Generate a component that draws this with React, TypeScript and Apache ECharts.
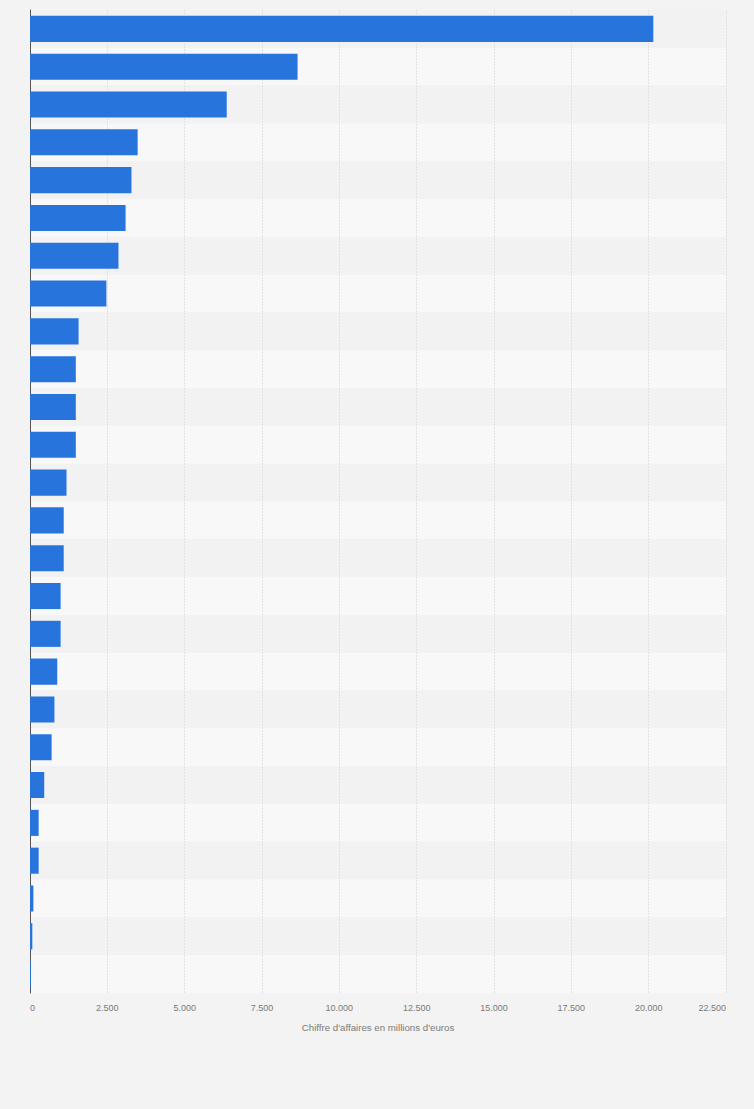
import React, { useEffect, useRef } from 'react';
import * as echarts from 'echarts';

const COLORS = {
  BG: '#f3f3f3',
  BAR: '#2775dc',
  TEXT: '#7a7a7a',
  AXIS: '#555555',
  SPLIT_LINE: '#e2e2e2',
  BANDS: ['#f2f2f2', '#f8f8f8'],
};

const FONT = 'Liberation Sans';

// rank of each entry (labels are not shown in the chart)
const categories = [
  '1', '2', '3', '4', '5', '6', '7', '8', '9', '10', '11', '12', '13',
  '14', '15', '16', '17', '18', '19', '20', '21', '22', '23', '24', '25', '26',
];

// Chiffre d'affaires en millions d'euros
const revenue = [
  20150, 8650, 6360, 3480, 3280, 3090, 2860, 2470, 1570, 1480, 1480, 1480, 1180,
  1090, 1090, 990, 990, 880, 790, 700, 460, 280, 280, 110, 75, 30,
];

const xTicks = { min: 0, max: 22500, interval: 2500 };

const AXIS_NAME = "Chiffre d'affaires en millions d'euros";

const formatThousands = (v: number) =>
  String(v).replace(/\B(?=(\d{3})+(?!\d))/g, '.');

const App: React.FC = () => {
  const divEL = useRef<HTMLDivElement>(null);

  useEffect(() => {
    document.body.style.margin = '0';
    const instance = echarts.init(divEL.current as any, null, { renderer: 'svg' });

    const option: echarts.EChartsOption = {
      animation: false,
      backgroundColor: COLORS.BG,
      textStyle: { fontFamily: FONT },
      grid: {
        left: 30,
        right: 28,
        top: 10,
        bottom: 116,
      },
      xAxis: {
        type: 'value',
        min: xTicks.min,
        max: xTicks.max,
        interval: xTicks.interval,
        name: AXIS_NAME,
        nameLocation: 'middle',
        nameGap: 29,
        nameTextStyle: {
          color: COLORS.TEXT,
          fontSize: 9.7,
          fontFamily: FONT,
        },
        axisLine: { show: false },
        axisTick: { show: false },
        axisLabel: {
          color: COLORS.TEXT,
          fontSize: 9,
          fontFamily: FONT,
          margin: 10,
          formatter: (v: number) => formatThousands(v),
          alignMinLabel: 'left',
          alignMaxLabel: 'right',
        },
        splitLine: {
          show: true,
          lineStyle: {
            color: COLORS.SPLIT_LINE,
            type: [2, 1],
            width: 1,
          },
        },
      },
      yAxis: {
        type: 'category',
        data: categories,
        inverse: true,
        axisLine: {
          show: true,
          lineStyle: { color: COLORS.AXIS, width: 1 },
        },
        axisTick: { show: false },
        axisLabel: { show: false },
        splitLine: { show: false },
        splitArea: {
          show: true,
          areaStyle: { color: COLORS.BANDS },
        },
      },
      series: [
        {
          name: AXIS_NAME,
          type: 'bar',
          data: revenue,
          barCategoryGap: '31%',
          itemStyle: { color: COLORS.BAR },
        },
      ],
    };

    instance.setOption(option);

    return () => {
      instance.dispose();
    };
  }, []);

  return <div ref={divEL} style={{ width: 754, height: 1109 }}></div>;
};

export default App;
